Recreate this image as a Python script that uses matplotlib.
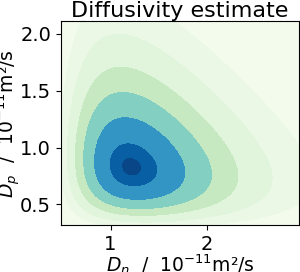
import numpy as np
import matplotlib
matplotlib.use("Agg")
import matplotlib.pyplot as plt

# peak of the estimate, 10^-11 m^2/s
dn_peak = 1.215
dp_peak = 0.828
# spread around the peak and the coupling between Dn and Dp
spread_n = 1.0
spread_p = 0.925
corr = -0.14

# contour boundaries as fraction of the peak value
level_frac = [0.0, 0.317, 0.449, 0.589, 0.712, 0.84, 0.954, 0.993, 1.001]
# where each filled band sits in the GnBu map
band_cpos = [0.02, 0.06, 0.12, 0.27, 0.48, 0.72, 0.9, 0.98]

dn_range = [0.484, 2.96]
dp_range = [0.318, 2.11]
xticks = [1, 2]
yticks = [0.5, 1.0, 1.5, 2.0]

dn = np.linspace(dn_range[0], dn_range[1], 400)
dp = np.linspace(dp_range[0], dp_range[1], 400)
DN, DP = np.meshgrid(dn, dp)
s = (DN - dn_peak) / np.sqrt(DN) / spread_n
t = (DP - dp_peak) / np.sqrt(DP) / spread_p
q = (s**2 + t**2 - 2 * corr * s * t) / (1 - corr**2)
dens = np.exp(-q)

fig = plt.figure(figsize=(3.0, 2.72), dpi=100)
ax = fig.add_axes([0.203, 0.173, 0.794, 0.748])

cmap = plt.get_cmap("GnBu")
ax.contourf(DN, DP, dens, levels=level_frac, colors=[cmap(c) for c in band_cpos])

ax.set_xlim(dn_range)
ax.set_ylim(dp_range)
ax.set_xticks(xticks)
ax.set_yticks(yticks)
ax.tick_params(labelsize=14)
ax.set_xlabel(r"$D_n$  /  $10^{-11}$m²/s", fontsize=13.5, labelpad=-1)
ax.set_ylabel(r"$D_p$  /  $10^{-11}$m²/s", fontsize=13.5, labelpad=-2)
ax.set_title("Diffusivity estimate", fontsize=16, pad=2)

fig.savefig("out.png", dpi=100)
